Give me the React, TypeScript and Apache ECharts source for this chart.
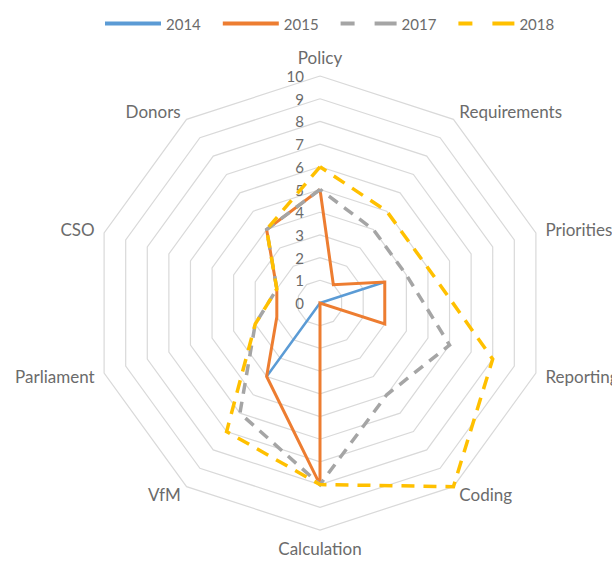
import React, { useEffect, useRef } from "react";
import * as echarts from "echarts";

const categories = ["Policy", "Requirements", "Priorities", "Reporting", "Coding", "Calculation", "VfM", "Parliament", "CSO", "Donors"];
const years = ["2014", "2015", "2017", "2018"];
const values2014 = [0, 0, 3, 0, 0, 0, 4, 0, 0, 0];
const values2015 = [5, 1, 3, 3, 0, 8, 4, 2, 2, 4];
const values2017 = [5, 4, 4, 6, 5, 8, 6, 3, 2, 4];
const values2018 = [6, 5, 5, 8, 10, 8, 7, 3, 2, 4];
const scaleMin = 0;
const scaleMax = 10;

// ECharts lays radar indicators out counter-clockwise; reorder so they run clockwise.
const order = [0, 9, 8, 7, 6, 5, 4, 3, 2, 1];
const reorder = (arr: number[]) => order.map((i) => arr[i]);

const FONT = "Lato";
const TEXT = "#6b6b6b";

const solidIcon = "path://M0,0h56v4h-56z";
const dashIcon = "path://M0,0h14v4h-14z M34,0h22v4h-22z";

export default function App() {
  const ref = useRef<HTMLDivElement>(null);
  useEffect(() => {
    if (!ref.current) return;
    const chart = echarts.init(ref.current, undefined, { renderer: "svg" });
    const seriesDefs = [
      { name: years[0], values: values2014, color: "#5B9BD5", width: 2.5, type: "solid" as any },
      { name: years[1], values: values2015, color: "#ED7D31", width: 3, type: "solid" as any },
      { name: years[2], values: values2017, color: "#A5A5A5", width: 3.5, type: [11, 8] as any },
      { name: years[3], values: values2018, color: "#FFC000", width: 3.5, type: [13, 9] as any },
    ];
    chart.setOption({
      animation: false,
      backgroundColor: "#ffffff",
      legend: {
        top: 11,
        left: 100,
        itemWidth: 56,
        itemHeight: 4,
        itemGap: 22,
        textStyle: { fontFamily: FONT, fontSize: 15, color: TEXT },
        data: [
          { name: years[0], icon: solidIcon, itemStyle: { color: "#5B9BD5" } },
          { name: years[1], icon: solidIcon, itemStyle: { color: "#ED7D31" } },
          { name: years[2], icon: dashIcon, itemStyle: { color: "#A5A5A5" } },
          { name: years[3], icon: dashIcon, itemStyle: { color: "#FFC000" } },
        ],
      },
      radar: {
        center: [320, 303],
        radius: 227,
        startAngle: 90,
        shape: "polygon",
        splitNumber: 10,
        nameGap: 10,
        axisName: { fontFamily: FONT, fontSize: 17, color: TEXT },
        axisLine: { show: false },
        axisTick: { show: false },
        axisLabel: { show: false },
        splitLine: { lineStyle: { color: "#d9d9d9", width: 1.2 } },
        splitArea: { show: false },
        indicator: order.map((i, k) => {
          const ind: any = { name: categories[i], min: scaleMin, max: scaleMax };
          if (k === 0) {
            ind.axisLabel = { show: true, fontFamily: FONT, fontSize: 15, color: TEXT, margin: 16, showMinLabel: true, showMaxLabel: true };
          }
          return ind;
        }),
      },
      series: seriesDefs.map((s) => ({
        type: "radar",
        name: s.name,
        symbol: "none",
        lineStyle: { color: s.color, width: s.width, type: s.type, join: "miter" },
        itemStyle: { color: s.color },
        data: [{ name: s.name, value: reorder(s.values) }],
      })),
    });
    return () => chart.dispose();
  }, []);
  return <div ref={ref} style={{ position: "fixed", left: 0, top: 0, width: 612, height: 565 }} />;
}
